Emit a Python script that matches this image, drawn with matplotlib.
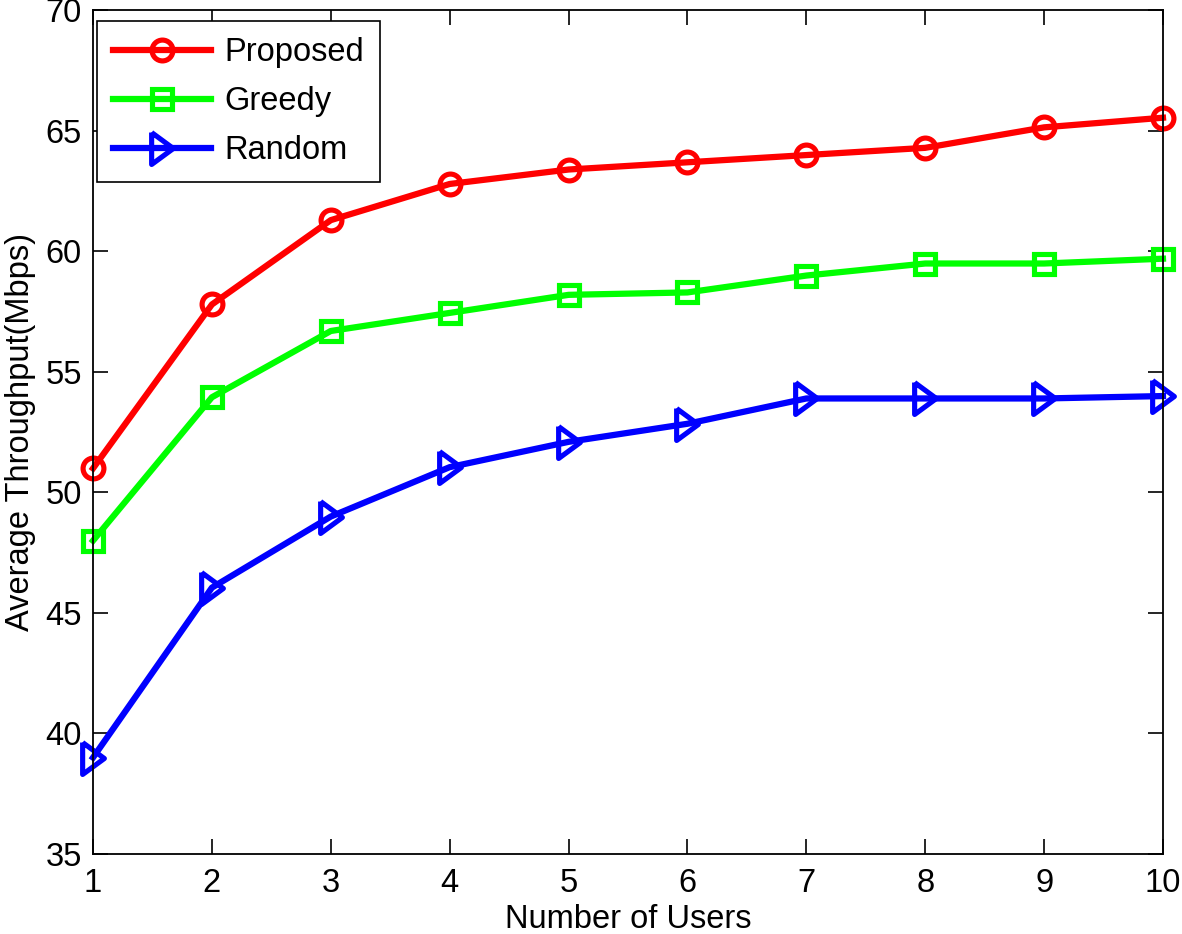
import matplotlib
matplotlib.use('Agg')
import matplotlib.pyplot as plt

users = [1, 2, 3, 4, 5, 6, 7, 8, 9, 10]
proposed = [51.0, 57.8, 61.3, 62.8, 63.4, 63.7, 64.0, 64.3, 65.15, 65.55]
greedy = [48.0, 53.95, 56.7, 57.45, 58.2, 58.3, 59.0, 59.5, 59.5, 59.7]
random_ = [39.0, 46.05, 49.0, 51.05, 52.1, 52.85, 53.9, 53.9, 53.9, 54.0]

plt.rcParams['font.family'] = ['Liberation Sans', 'DejaVu Sans']
plt.rcParams['font.size'] = 23.5

fig = plt.figure(figsize=(11.82, 9.34), dpi=100)
ax = fig.add_axes([0.0787, 0.0857, 0.9052, 0.9031])

# MATLAB-like elongated right triangle
tri = [(-0.68, 1.0), (-0.68, -1.0), (0.68, 0.0), (-0.68, 1.0)]

style = dict(linewidth=4.5, markeredgewidth=3.7, markerfacecolor='none', clip_on=False)
ax.plot(users, proposed, '-', marker='o', markersize=15, color='#ff0000',
        markeredgecolor='#ff0000', label='Proposed', **style)
ax.plot(users, greedy, '-', marker='s', markersize=14.5, color='#00ff00',
        markeredgecolor='#00ff00', label='Greedy', **style)
ax.plot(users, random_, '-', marker=tri, markersize=23, color='#0000ff',
        markeredgecolor='#0000ff', label='Random', **style)

ax.set_xlim(1, 10)
ax.set_ylim(35, 70)
ax.set_xticks(users)
ax.set_yticks(range(35, 71, 5))
ax.tick_params(direction='in', length=11, width=1.2, top=True, right=True)
ax.tick_params(axis='x', pad=10)
ax.tick_params(axis='y', pad=8)
for s in ax.spines.values():
    s.set_linewidth(1.3)

ax.set_xlabel('Number of Users', labelpad=4)
ax.set_ylabel('Average Throughput(Mbps)', labelpad=7)

leg = ax.legend(loc='upper left', bbox_to_anchor=(0.0037, 0.9876), borderaxespad=0,
                handlelength=3.0, fancybox=False, edgecolor='black', framealpha=1,
                labelspacing=0.55, borderpad=0.5, handletextpad=0.4)
leg.get_frame().set_linewidth(1.2)

fig.savefig('out.png', dpi=100)
